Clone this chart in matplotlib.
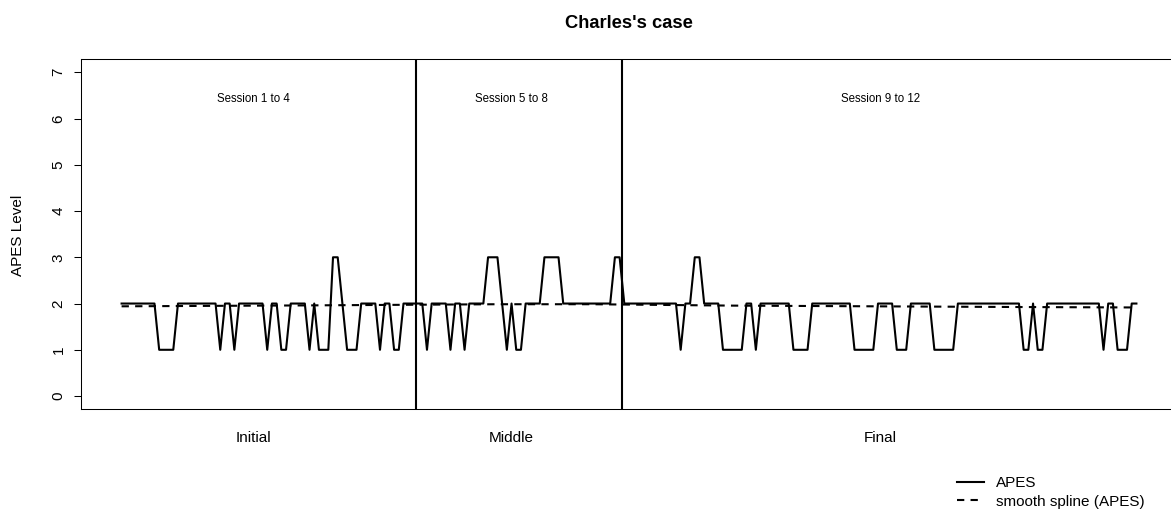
import numpy as np
import matplotlib
matplotlib.use('Agg')
import matplotlib.pyplot as plt

plt.rcParams['font.family'] = ['Liberation Sans', 'DejaVu Sans']

apes = [2, 2, 2, 2, 2, 2, 2, 2, 1, 1, 1, 1, 2, 2, 2, 2, 2, 2, 2, 2, 2,
        1, 2, 2, 1, 2, 2, 2, 2, 2, 2, 1, 2, 2, 1, 1, 2, 2, 2, 2, 1, 2,
        1, 1, 1, 3, 3, 2, 1, 1, 1, 2, 2, 2, 2, 1, 2, 2, 1, 1, 2, 2, 2,
        2, 2, 1, 2, 2, 2, 2, 1, 2, 2, 1, 2, 2, 2, 2, 3, 3, 3, 2, 1, 2,
        1, 1, 2, 2, 2, 2, 3, 3, 3, 3, 2, 2, 2, 2, 2, 2, 2, 2, 2, 2, 2,
        3, 3, 2, 2, 2, 2, 2, 2, 2, 2, 2, 2, 2, 2, 1, 2, 2, 3, 3, 2, 2,
        2, 2, 1, 1, 1, 1, 1, 2, 2, 1, 2, 2, 2, 2, 2, 2, 2, 1, 1, 1, 1,
        2, 2, 2, 2, 2, 2, 2, 2, 2, 1, 1, 1, 1, 1, 2, 2, 2, 2, 1, 1, 1,
        2, 2, 2, 2, 2, 1, 1, 1, 1, 1, 2, 2, 2, 2, 2, 2, 2, 2, 2, 2, 2,
        2, 2, 2, 1, 1, 2, 1, 1, 2, 2, 2, 2, 2, 2, 2, 2, 2, 2, 2, 2, 1,
        2, 2, 1, 1, 1, 2, 2]

# smooth spline as read at a few positions
spline_x = [0, 40, 80, 100, 130, 160, 190, 216]
spline_y = [1.94, 1.96, 1.985, 1.985, 1.955, 1.94, 1.925, 1.915]

phase_breaks = [62.6, 106.5]
phase_pos = [28, 83, 161.5]
phase_names = ['Initial', 'Middle', 'Final']
session_names = ['Session 1 to 4', 'Session 5 to 8', 'Session 9 to 12']

x = np.arange(len(apes))

W, H = 1171, 509
fig = plt.figure(figsize=(W / 100, H / 100), dpi=100)
ax = fig.add_axes([81 / W, 1 - 409 / H, (1177 - 81) / W, (409 - 59.3) / H])

ax.plot(x, apes, color='black', lw=1.5, label='APES')
ax.plot(spline_x, spline_y, color='black', lw=1.5, ls=(0, (3.5, 3)),
        label='smooth spline (APES)')
for b in phase_breaks:
    ax.axvline(b, color='black', lw=1.5)

n = len(apes) - 1
ax.set_xlim(-0.04 * n, n * 1.04)
ax.set_ylim(-0.28, 7.28)
ax.set_xticks([])
ax.set_yticks(range(8))
ax.tick_params(axis='y', length=5, width=0.75, labelsize=11, pad=6)
for lab in ax.get_yticklabels():
    lab.set_rotation(90)
    lab.set_va('center')
for s in ax.spines.values():
    s.set_linewidth(0.75)

for p, nm, sn in zip(phase_pos, phase_names, session_names):
    ax.text(p, -0.083, nm, transform=ax.get_xaxis_transform(),
            ha='center', va='center', fontsize=11)
    ax.text(p, 6.43, sn, ha='center', va='center', fontsize=8.3)

fig.text(18 / W, 1 - 235 / H, 'APES Level', rotation=90, ha='center',
         va='center', fontsize=11)
fig.text(629 / W, 1 - 23.5 / H, "Charles's case", ha='center', va='center',
         fontsize=13.2, fontweight='bold')

fig.legend(loc='upper left', bbox_to_anchor=(956.7 / W, 1 - 476 / H),
           frameon=False, fontsize=11, handlelength=1.8, handletextpad=0.8,
           borderpad=0, borderaxespad=0, labelspacing=0.3)

fig.savefig('out.png', dpi=100)
